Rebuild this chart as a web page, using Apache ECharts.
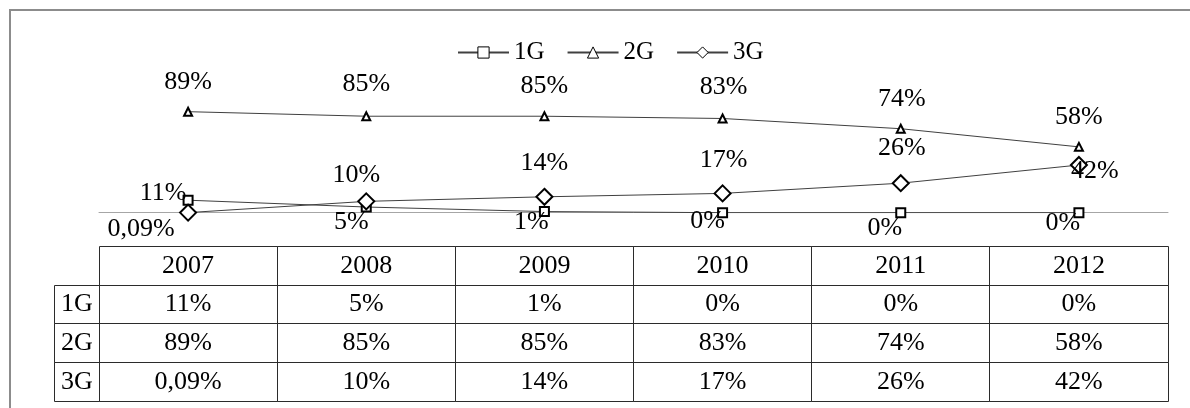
<!DOCTYPE html>
<html>
<head>
<meta charset="utf-8">
<script src="https://cdn.jsdelivr.net/npm/echarts@6/dist/echarts.min.js"></script>
<style>
  html, body { margin: 0; padding: 0; background: #fff; }
  #chart { width: 1190px; height: 408px; }
</style>
</head>
<body>
<div id="chart"></div>
<script>
// Mobile generation shares by year
const years = ['2007', '2008', '2009', '2010', '2011', '2012'];
const seriesNames = ['1G', '2G', '3G'];
const share1G = [11, 5, 1, 0, 0, 0];
const share2G = [89, 85, 85, 83, 74, 58];
const share3G = [0.09, 10, 14, 17, 26, 42];

// Pixel nudges for the value labels (layout only)
const labelShift1G = [[-25, -7], [-15, 15], [-13, 11], [-15, 8], [-16, 15], [-16, 10]];
const labelShift2G = [[0, -30], [0, -32], [0, -30], [1, -31], [1, -30], [0, -30]];
const labelShift3G = [[-47, 17], [-10, -26], [0, -34], [1, -33], [1, -35], [16, 6]];

const FONT = 'Liberation Serif';
const TEXT_SIZE = 26;

// Percent text with a decimal comma
function pct(v) {
  return (Number.isInteger(v) ? String(v) : v.toFixed(2).replace('.', ',')) + '%';
}

function lineSeries(name, values, shifts, symbol, size, z) {
  return {
    name: name,
    type: 'line',
    xAxisIndex: 0,
    yAxisIndex: 0,
    z: z,
    data: values.map((v, i) => ({ value: v, label: { offset: shifts[i] } })),
    symbol: symbol,
    symbolSize: size,
    showAllSymbol: true,
    lineStyle: { color: '#404040', width: 1 },
    itemStyle: { color: '#ffffff', borderColor: '#000000', borderWidth: 2 },
    label: {
      show: true,
      position: 'inside',
      formatter: p => pct(p.value),
      color: '#000',
      fontFamily: FONT,
      fontSize: TEXT_SIZE
    },
    emphasis: { disabled: true },
    animation: false
  };
}

// Table below the plot: header row of years plus one row per series
const rowKeys = ['year', '1G', '2G', '3G'];
const seriesValues = [share1G, share2G, share3G];
const tableCells = [];
const tableTexts = [];
years.forEach((y, c) => {
  tableCells.push([c, 0]);
  tableTexts.push(y);
  seriesValues.forEach((arr, r) => {
    tableCells.push([c, r + 1]);
    tableTexts.push(pct(arr[c]));
  });
});

// Snap a boundary to the pixel grid the same way for neighbouring cells
const crisp = v => Math.floor(Math.round(v * 1000) / 1000) + 0.5;

function renderCell(params, api) {
  const c = api.value(0);
  const r = api.value(1);
  const pt = api.coord([c, r]);
  const sz = api.size([1, 1]);
  const x0 = crisp(pt[0] - sz[0] / 2), x1 = crisp(pt[0] + sz[0] / 2);
  const y0 = crisp(pt[1] - sz[1] / 2), y1 = crisp(pt[1] + sz[1] / 2);
  const children = [
    { type: 'rect', shape: { x: x0, y: y0, width: x1 - x0, height: y1 - y0 },
      style: { fill: 'none', stroke: '#2b2b2b', lineWidth: 1 } },
    { type: 'text', style: { text: tableTexts[params.dataIndex], x: pt[0], y: pt[1],
      align: 'center', verticalAlign: 'middle', fontFamily: FONT, fontSize: TEXT_SIZE, fill: '#000' } }
  ];
  if (c === 0 && r > 0) {
    const lw = 45;
    children.push(
      { type: 'rect', shape: { x: x0 - lw, y: y0, width: lw, height: y1 - y0 },
        style: { fill: 'none', stroke: '#2b2b2b', lineWidth: 1 } },
      { type: 'text', style: { text: seriesNames[r - 1], x: x0 - lw / 2, y: pt[1],
        align: 'center', verticalAlign: 'middle', fontFamily: FONT, fontSize: TEXT_SIZE, fill: '#000' } }
    );
  }
  return { type: 'group', children: children };
}

const chart = echarts.init(document.getElementById('chart'), null, { renderer: 'canvas' });
chart.setOption({
  backgroundColor: '#fff',
  animation: false,
  graphic: [{
    type: 'rect', z: -10, silent: true,
    shape: { x: 10, y: 10, width: 1200, height: 420 },
    style: { fill: 'none', stroke: '#8c8c8c', lineWidth: 2 }
  }],
  legend: {
    data: seriesNames,
    left: 452,
    top: 35,
    itemWidth: 51,
    itemHeight: 14,
    itemGap: 22,
    itemStyle: { borderWidth: 1 },
    textStyle: { fontFamily: FONT, fontSize: 25, color: '#000' },
    selectedMode: false
  },
  grid: [
    { left: 99, right: 22, top: 99.2, bottom: 195.3, outerBoundsMode: 'none' },
    { left: 99, right: 22, top: 246.7, bottom: 7, outerBoundsMode: 'none' }
  ],
  xAxis: [
    { type: 'category', gridIndex: 0, data: years, boundaryGap: true,
      axisLine: { show: true, lineStyle: { color: '#a6a6a6', width: 1 } },
      axisTick: { show: false }, axisLabel: { show: false }, splitLine: { show: false } },
    { type: 'category', gridIndex: 1, data: years, show: false }
  ],
  yAxis: [
    { type: 'value', gridIndex: 0, min: 0, max: 100, show: false },
    { type: 'category', gridIndex: 1, data: rowKeys, inverse: true, show: false }
  ],
  series: [
    lineSeries('1G', share1G, labelShift1G, 'rect', 9, 3),
    lineSeries('2G', share2G, labelShift2G, 'triangle', 8, 4),
    lineSeries('3G', share3G, labelShift3G, 'diamond', 16, 5),
    {
      type: 'custom',
      xAxisIndex: 1,
      yAxisIndex: 1,
      data: tableCells,
      renderItem: renderCell,
      silent: true,
      animation: false
    }
  ]
});
</script>
</body>
</html>
